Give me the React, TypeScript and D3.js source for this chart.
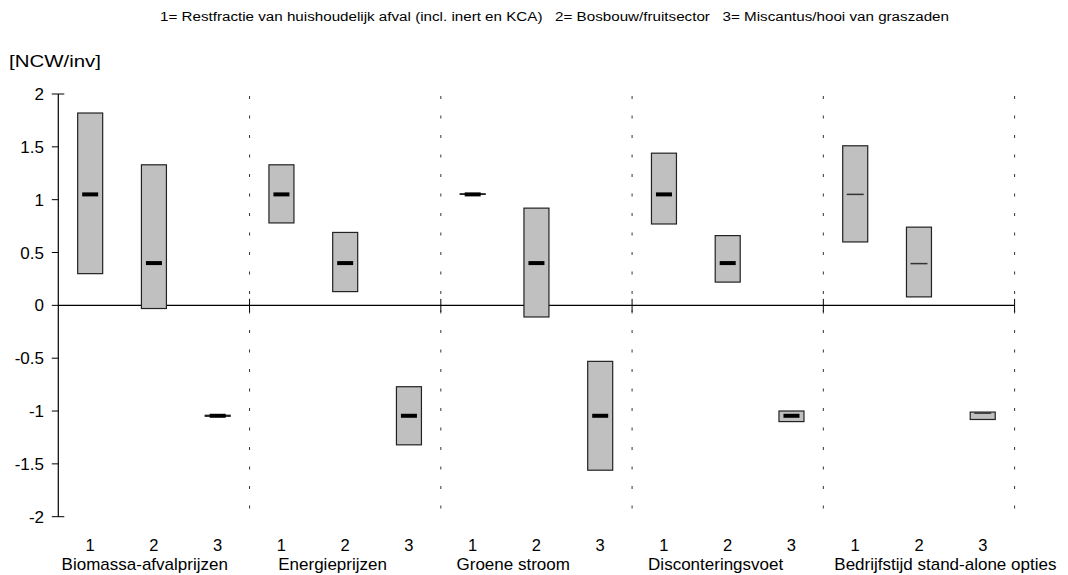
import React from "react";
import * as d3 from "d3";

// Sensitivity groups along the x axis
const groups = [
  "Biomassa-afvalprijzen",
  "Energieprijzen",
  "Groene stroom",
  "Disconteringsvoet",
  "Bedrijfstijd stand-alone opties",
];

// Biomass chain codes within each group
const chains = ["1", "2", "3"];

const legendText =
  "1= Restfractie van huishoudelijk afval (incl. inert en KCA)   2= Bosbouw/fruitsector   3= Miscantus/hooi van graszaden";

// Range (low/high) and base value per chain, one entry per group  [NCW/inv]
const restfractieLow = [0.3, 0.78, 1.05, 0.77, 0.6];
const restfractieHigh = [1.82, 1.33, 1.056, 1.44, 1.51];
const restfractieBase = [1.05, 1.05, 1.05, 1.05, 1.05];

const bosbouwLow = [-0.03, 0.13, -0.11, 0.22, 0.08];
const bosbouwHigh = [1.33, 0.69, 0.92, 0.66, 0.74];
const bosbouwBase = [0.4, 0.4, 0.4, 0.4, 0.395];

const miscantusLow = [-1.05, -1.32, -1.56, -1.1, -1.08];
const miscantusHigh = [-1.04, -0.77, -0.53, -1.0, -1.01];
const miscantusBase = [-1.045, -1.045, -1.045, -1.045, -1.02];

const yTicks = [2, 1.5, 1, 0.5, 0, -0.5, -1, -1.5, -2];
const yTickLabels = ["2", "1.5", "1", "0.5", "0", "-0.5", "-1", "-1.5", "-2"];

const lows = [restfractieLow, bosbouwLow, miscantusLow];
const highs = [restfractieHigh, bosbouwHigh, miscantusHigh];
const bases = [restfractieBase, bosbouwBase, miscantusBase];

const W = 1068;
const H = 575;
const FONT = "Arial, 'Liberation Sans', sans-serif";

export default function App() {
  const y = d3.scaleLinear().domain([-2, 2]).range([516.7, 94]);
  const xGroup = d3.scaleBand<string>().domain(groups).range([58.3, 1014.6]).padding(0);
  const xChain = d3.scaleBand<string>().domain(chains).range([0, xGroup.bandwidth()]).padding(0);
  const boxW = 25;

  // horizontal placement of group captions relative to group start
  const captionShift = [3.3, 28.7, 15.7, 16, 11];

  const separators = groups.map((g) => (xGroup(g) as number) + xGroup.bandwidth());
  const axisX = xGroup(groups[0]) as number;

  const cells: { gi: number; ci: number }[] = [];
  groups.forEach((_, gi) => chains.forEach((__, ci) => cells.push({ gi, ci })));

  return (
    <svg
      width={W}
      height={H}
      style={{ position: "absolute", left: 0, top: 0, background: "#fff" }}
      fontFamily={FONT}
    >
      <rect x={0} y={0} width={W} height={H} fill="#fff" />
      <text x={554.5} y={21} fontSize={12.5} textAnchor="middle" textLength={789} lengthAdjust="spacingAndGlyphs" fill="#000" style={{ whiteSpace: "pre" }}>
        {legendText}
      </text>
      <text x={9} y={67} fontSize={17} textLength={92} lengthAdjust="spacingAndGlyphs" fill="#000">[NCW/inv]</text>

      {/* dotted group separators */}
      {separators.map((sx, i) => (
        <line key={"sep" + i} x1={sx} x2={sx} y1={96} y2={510} stroke="#333" strokeWidth={1} strokeDasharray="3 16.5" />
      ))}

      {/* zero line with ticks at group borders */}
      <line x1={axisX} x2={separators[separators.length - 1]} y1={y(0)} y2={y(0)} stroke="#000" strokeWidth={1.2} />
      {separators.map((sx, i) => (
        <line key={"zt" + i} x1={sx} x2={sx} y1={y(0) - 6.5} y2={y(0) + 6.5} stroke="#000" strokeWidth={1} />
      ))}

      {/* y axis */}
      <line x1={axisX} x2={axisX} y1={y(2)} y2={y(-2)} stroke="#000" strokeWidth={1.2} />
      {yTicks.map((t, i) => {
        const end = t === 2 || t === -2;
        return (
          <g key={"yt" + i}>
            <line x1={axisX - 6.5} x2={end ? axisX + 6 : axisX} y1={y(t)} y2={y(t)} stroke="#000" strokeWidth={1} />
            <text x={44} y={y(t)} dy="0.36em" fontSize={17} textAnchor="end" fill="#000">
              {yTickLabels[i]}
            </text>
          </g>
        );
      })}

      {/* range boxes with base value marks */}
      {cells.map(({ gi, ci }) => {
        const cx = (xGroup(groups[gi]) as number) + (xChain(chains[ci]) as number) + xChain.bandwidth() / 2;
        const top = y(highs[ci][gi]);
        const bot = y(lows[ci][gi]);
        const mid = y(bases[ci][gi]);
        const thin = gi === 4;
        return (
          <g key={"b" + gi + "-" + ci}>
            <rect x={cx - boxW / 2} y={top} width={boxW} height={Math.max(bot - top, 0.01)} fill="#c0c0c0" stroke="#222" strokeWidth={1.2} />
            {thin ? (
              <line x1={cx - 8.5} x2={cx + 8.5} y1={mid} y2={mid} stroke="#333" strokeWidth={1.5} />
            ) : (
              <rect x={cx - 8} y={mid - 2} width={16} height={4} fill="#000" />
            )}
          </g>
        );
      })}

      {/* category labels */}
      {cells.map(({ gi, ci }) => {
        const cx = (xGroup(groups[gi]) as number) + (xChain(chains[ci]) as number) + xChain.bandwidth() / 2;
        return (
          <text key={"cl" + gi + ci} x={cx} y={550.5} fontSize={16.5} textAnchor="middle" fill="#000">
            {chains[ci]}
          </text>
        );
      })}
      {groups.map((g, gi) => (
        <text key={"gl" + gi} x={(xGroup(g) as number) + captionShift[gi]} y={569.5} fontSize={17} fill="#000">
          {g}
        </text>
      ))}
    </svg>
  );
}
